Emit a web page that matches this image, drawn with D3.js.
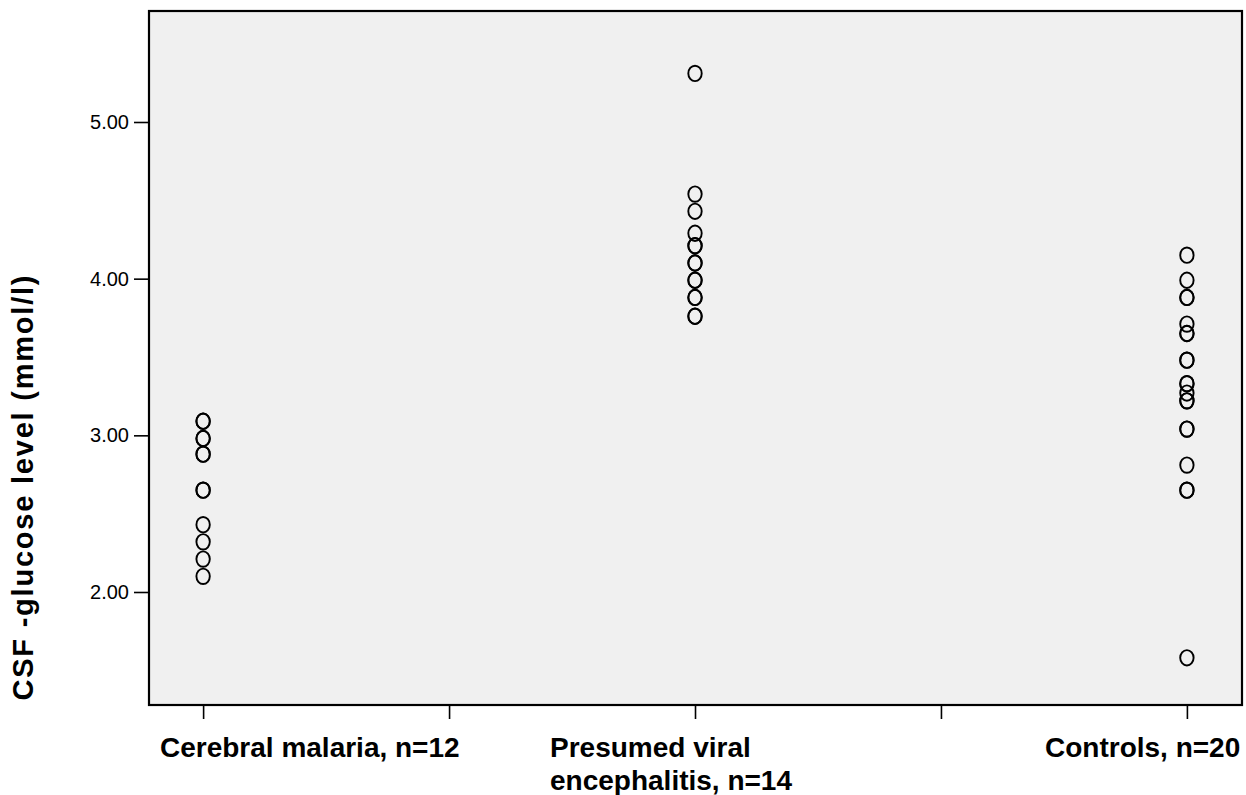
<!DOCTYPE html>
<html>
<head>
<meta charset="utf-8">
<script src="https://cdn.jsdelivr.net/npm/d3@7"></script>
<style>
  html, body { margin: 0; padding: 0; background: #fff; }
  svg { display: block; }
</style>
</head>
<body>
<svg id="chart" width="1246" height="795"></svg>
<script>
// ---- Data ----
const categories = ["Cerebral malaria, n=12", "Presumed viral encephalitis, n=14", "Controls, n=20"];
const categoryLines = [["Cerebral malaria, n=12"], ["Presumed viral", "encephalitis, n=14"], ["Controls, n=20"]];
const malariaValues = [3.09, 3.09, 2.98, 2.98, 2.88, 2.88, 2.65, 2.65, 2.43, 2.32, 2.21, 2.10];
const viralValues = [5.31, 4.54, 4.43, 4.29, 4.21, 4.21, 4.10, 4.10, 3.99, 3.99, 3.88, 3.88, 3.76, 3.76];
const controlValues = [4.15, 3.99, 3.88, 3.88, 3.71, 3.65, 3.65, 3.48, 3.48, 3.33, 3.33, 3.27, 3.22, 3.22, 3.04, 3.04, 2.81, 2.65, 2.65, 1.58];
const yTicks = [2, 3, 4, 5];
const xTicks = [1, 1.5, 2, 2.5, 3];
const yTitle = "CSF -glucose level (mmol/l)";

const seriesList = [malariaValues, viralValues, controlValues];

// ---- Layout ----
const plot = { left: 149, right: 1242, top: 11, bottom: 705 };
const labelStart = [160, 550, 1045];
const fontFamily = "Liberation Sans, Arial, sans-serif";

const svg = d3.select("#chart");

const x = d3.scaleLinear().domain([0.89, 3.112]).range([plot.left, plot.right]);
const y = d3.scaleLinear().domain([1.2787, 5.7085]).range([plot.bottom, plot.top]);

svg.append("rect").attr("x", 0).attr("y", 0).attr("width", 1246).attr("height", 795).attr("fill", "#fff");

svg.append("rect")
  .attr("x", plot.left).attr("y", plot.top)
  .attr("width", plot.right - plot.left).attr("height", plot.bottom - plot.top)
  .attr("fill", "#f0f0f0");

// y axis
const yAxis = d3.axisLeft(y).tickValues(yTicks).tickFormat(d3.format(".2f")).tickSize(14).tickPadding(5);
const gy = svg.append("g").attr("transform", `translate(${plot.left - 1},0)`).call(yAxis);
gy.select(".domain").remove();
gy.selectAll(".tick line").attr("stroke", "#000").attr("stroke-width", 1.6);
gy.selectAll(".tick text").attr("font-family", fontFamily).attr("font-size", 20).attr("fill", "#000");

// x axis
const xAxis = d3.axisBottom(x).tickValues(xTicks).tickFormat("").tickSize(13);
const gx = svg.append("g").attr("transform", `translate(0,${plot.bottom + 1})`).call(xAxis);
gx.select(".domain").remove();
gx.selectAll(".tick line").attr("stroke", "#000").attr("stroke-width", 1.6);

// frame
svg.append("rect")
  .attr("x", plot.left).attr("y", plot.top)
  .attr("width", plot.right - plot.left).attr("height", plot.bottom - plot.top)
  .attr("fill", "none").attr("stroke", "#000").attr("stroke-width", 2.2);

// points
const pts = [];
seriesList.forEach((vals, i) => vals.forEach(v => pts.push({ c: i + 1, v })));
svg.append("g").selectAll("ellipse").data(pts).join("ellipse")
  .attr("cx", d => x(d.c)).attr("cy", d => y(d.v))
  .attr("rx", 6.7).attr("ry", 7.7)
  .attr("fill", "none").attr("stroke", "#000").attr("stroke-width", 1.9);

// category labels
categoryLines.forEach((lines, i) => {
  const t = svg.append("text")
    .attr("font-family", fontFamily)
    .attr("font-weight", "bold").attr("font-size", 28).attr("fill", "#000");
  lines.forEach((ln, j) => {
    t.append("tspan").attr("x", labelStart[i]).attr("y", 757 + j * 33).text(ln);
  });
});

// y title
svg.append("text")
  .attr("transform", `translate(33,488) rotate(-90)`)
  .attr("text-anchor", "middle")
  .attr("font-family", fontFamily)
  .attr("font-weight", "bold").attr("font-size", 29).attr("fill", "#000")
  .attr("textLength", 425).attr("lengthAdjust", "spacing")
  .text(yTitle);
</script>
</body>
</html>
